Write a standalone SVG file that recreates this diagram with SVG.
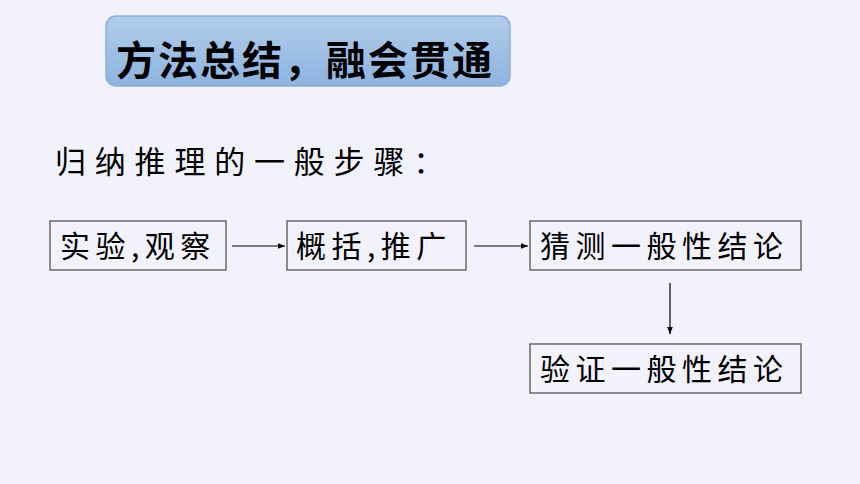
<svg xmlns="http://www.w3.org/2000/svg" width="860" height="484" viewBox="0 0 860 484">
<defs>
<linearGradient id="tg" x1="0" y1="0" x2="0" y2="1">
<stop offset="0" stop-color="#b0cdea"/>
<stop offset="1" stop-color="#8eb3e0"/>
</linearGradient>
<marker id="ah" viewBox="0 0 10 10" refX="10" refY="5" markerWidth="7" markerHeight="7" markerUnits="userSpaceOnUse" orient="auto">
<path d="M0,1 L10,5 L0,9 z" fill="#000"/>
</marker>
<style>
.box{fill:none;stroke:#555;stroke-width:1.3}
.lbl{font-family:"Noto Sans CJK SC","Liberation Serif",serif;font-size:30px;fill:#000;letter-spacing:5.5px}
.conn{stroke:#000;stroke-width:1.2;fill:none;marker-end:url(#ah)}
</style>
</defs>
<rect width="860" height="484" fill="#f2f2fc"/>
<g id="title">
<rect x="106" y="16" width="404" height="70" rx="10" fill="url(#tg)" stroke="#8aaedb" stroke-width="1.5"/>
<text x="116" y="75" font-family="'Noto Sans CJK SC',sans-serif" font-weight="bold" font-size="40" letter-spacing="2" fill="#000">方法总结，融会贯通</text>
</g>
<g id="subtitle">
<text x="55" y="173" font-family="'Noto Sans CJK SC',sans-serif" font-size="31" letter-spacing="8.8" fill="#000">归纳推理的一般步骤：</text>
</g>
<g id="n1">
<rect class="box" x="50" y="221" width="176" height="49"/>
<text class="lbl" x="60" y="257">实验,观察</text>
</g>
<g id="n2">
<rect class="box" x="287" y="221" width="179" height="49"/>
<text class="lbl" x="296" y="257">概括,推广</text>
</g>
<g id="n3">
<rect class="box" x="530" y="221" width="271" height="49"/>
<text class="lbl" x="540" y="257">猜测一般性结论</text>
</g>
<g id="n4">
<rect class="box" x="530" y="344" width="271" height="49"/>
<text class="lbl" x="540" y="380">验证一般性结论</text>
</g>
<g id="connectors">
<line class="conn" x1="232" y1="246" x2="285" y2="246"/>
<line class="conn" x1="474" y1="246" x2="528" y2="246"/>
<line class="conn" x1="670" y1="283" x2="670" y2="334"/>
</g>
</svg>
